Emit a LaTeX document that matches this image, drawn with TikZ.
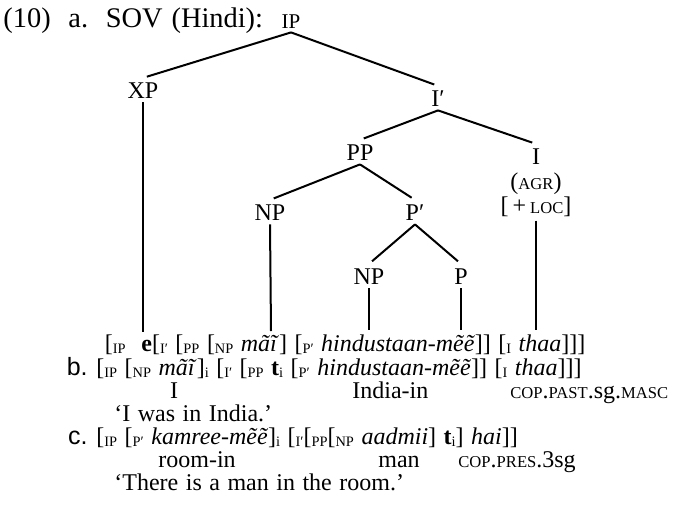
\documentclass[tikz,border=0pt]{standalone}
\usepackage{fontspec}
\setmainfont{Liberation Serif}[WordSpace=1.25]
\newfontfamily\itemfont{Liberation Sans}
% sizes (the picture unit is 0.5pt)
\newcommand\bodyfont{\fontsize{12pt}{14pt}\selectfont}
\newcommand\titlefont{\fontsize{14.2pt}{16pt}\selectfont}
% small capitals drawn as reduced upper case
\newcommand\smc[1]{{\fontsize{8.3pt}{9pt}\selectfont #1}}
% lowered label on a bracket
\newcommand\sbl[1]{\raisebox{-1.4pt}{\fontsize{7.2pt}{8pt}\selectfont #1}}
\begin{document}
\begin{tikzpicture}[x=0.5pt,y=-0.5pt,
  every node/.style={font=\bodyfont, inner sep=0pt},
  cat/.style={anchor=base, inner sep=2pt},
  txt/.style={anchor=base west},
  branch/.style={line width=1pt, shorten >=2pt},
  stem/.style={line width=1pt}]
\useasboundingbox (0,0) rectangle (690,514);

% heading
\node[txt, font=\titlefont] (title) at (3,27) {(10)\ \ a.\ \ SOV (Hindi):};

% tree categories
\node[cat, font=\fontsize{10.5pt}{11pt}\selectfont] (IP) at (291,28) {IP};
\node[cat] (XP) at (143,98) {XP};
\node[cat] (Ibar) at (438,106) {I′};
\node[cat] (PP) at (360,160) {PP};
\node[cat] (I) at (536,164) {I};
\node[cat] (agr) at (536,189) {(\smc{AGR})};
\node[cat] (loc) at (536,213) {[\,+\,\smc{LOC}]};
\node[cat] (NPa) at (270,220) {NP};
\node[cat] (Pbar) at (415,220) {P′};
\node[cat] (NPb) at (369,284) {NP};
\node[cat] (P) at (461,284) {P};

% lower ends of the stems
\coordinate (xe) at (143,332);
\coordinate (npae) at (271,331);
\coordinate (npbe) at (369,330);
\coordinate (pe) at (461,330);
\coordinate (ie) at (536,330);

% branches
\draw[branch] (IP.south) -- (XP.north);
\draw[branch] (IP.south) -- (Ibar.north);
\draw[branch] (Ibar.south) -- (PP.north);
\draw[branch] (Ibar.south) -- (I.north);
\draw[branch] (PP.south) -- (NPa.north);
\draw[branch] (PP.south) -- (Pbar.north);
\draw[branch] (Pbar.south) -- (NPb.north);
\draw[branch] (Pbar.south) -- (P.north);

% stems down to the string
\draw[stem] (XP.south) -- (xe);
\draw[stem] (NPa.south) -- (npae);
\draw[stem] (NPb.south) -- (npbe);
\draw[stem] (P.south) -- (pe);
\draw[stem] (loc.south) -- (ie);

% (10a) bracketing
\node[anchor=base east] (rowaL) at (126,351) {[\sbl{IP}};
\node[txt] (rowa) at (141,351) {\textbf{e}[\sbl{I′} [\sbl{PP} [\sbl{NP} \textit{mãĩ}] [\sbl{P′} \textit{hindustaan-mẽẽ}]] [\sbl{I} \textit{thaa}]]]};

% (10b)
\node[anchor=base east, font=\itemfont\fontsize{12.5pt}{14pt}\selectfont] (bl) at (88,375) {b.};
\node[txt] (rowb) at (96,375) {[\sbl{IP} [\sbl{NP} \textit{mãĩ}]\sbl{i} [\sbl{I′} [\sbl{PP} \textbf{t}\sbl{i} [\sbl{P′} \textit{hindustaan-mẽẽ}]] [\sbl{I} \textit{thaa}]]]};
\node[anchor=base] (gb1) at (174,398) {I};
\node[txt] (gb2) at (352,398) {India-in};
\node[txt] (gb3) at (510,398) {\smc{COP}.\smc{PAST}.sg.\smc{MASC}};
\node[txt] (tb) at (114,421) {‘I was in India.’};

% (10c)
\node[anchor=base east, font=\itemfont\fontsize{12.5pt}{14pt}\selectfont] (cl) at (88,444) {c.};
\node[txt] (rowc) at (96,444) {[\sbl{IP} [\sbl{P′} \textit{kamree-mẽẽ}]\sbl{i} [\sbl{I′}[\sbl{PP}[\sbl{NP} \textit{aadmii}] \textbf{t}\sbl{i}] \textit{hai}]]};
\node[txt] (gc1) at (158,467) {room-in};
\node[txt] (gc2) at (378,467) {man};
\node[txt] (gc3) at (458,467) {\smc{COP}.\smc{PRES}.3sg};
\node[txt] (tc) at (114,490) {‘There is a man in the room.’};
\end{tikzpicture}
\end{document}
